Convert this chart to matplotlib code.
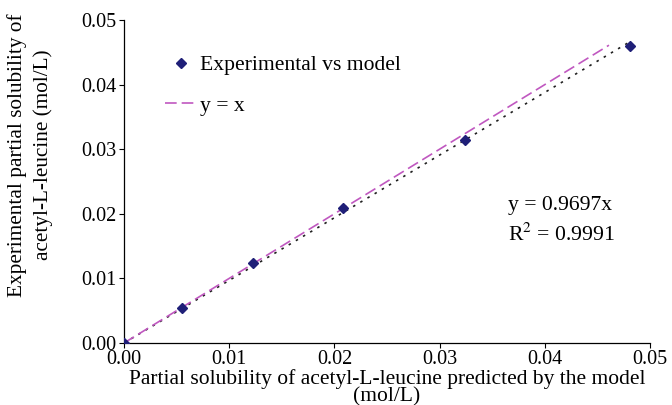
import numpy as np
import matplotlib
matplotlib.use("Agg")
import matplotlib.pyplot as plt

plt.rcParams['font.family'] = ['Liberation Serif', 'DejaVu Serif']
plt.rcParams['mathtext.fontset'] = 'stix'

# data
model = [0.0, 0.00554, 0.01226, 0.02085, 0.03244, 0.0481]
experimental = [0.0, 0.00537, 0.01232, 0.02085, 0.03136, 0.0460]
slope = 0.9697
r2 = 0.9991
identity_end = 0.0461
x_ticks = [0.00, 0.01, 0.02, 0.03, 0.04, 0.05]
y_ticks = [0.00, 0.01, 0.02, 0.03, 0.04, 0.05]

W, H = 672, 405
fig = plt.figure(figsize=(W / 100, H / 100), dpi=100)
ax = fig.add_axes([124 / W, 1 - 343 / H, (650 - 124) / W, (343 - 20) / H])

ax.plot(model, experimental, linestyle='none', marker='D', markersize=5,
        color='#1f1f78', label='Experimental vs model', zorder=3)
ax.plot([0, identity_end], [0, identity_end], linestyle=(0, (7, 3)),
        color='#c058c0', linewidth=1.2, label='y = x', zorder=2)
trend_x = np.array([0, max(model)])
ax.plot(trend_x, slope * trend_x, linestyle=(0, (1.5, 3.5)),
        color='#202020', linewidth=1.2, zorder=1)

ax.set_xlim(0, 0.05)
ax.set_ylim(0, 0.05)
ax.set_xticks(x_ticks)
ax.set_yticks(y_ticks)
ax.set_xticklabels([f"{t:.2f}" for t in x_ticks])
ax.set_yticklabels([f"{t:.2f}" for t in y_ticks])
ax.tick_params(direction='out', length=3.5, width=0.8, labelsize=14.5, pad=2)
ax.tick_params(axis='x', pad=1.5)
for s in ['top', 'right']:
    ax.spines[s].set_visible(False)
for s in ['left', 'bottom']:
    ax.spines[s].set_linewidth(0.9)

# x title: va='baseline' anchors the last line
fig.text(387 / W, 1 - 401.5 / H,
         'Partial solubility of acetyl-L-leucine predicted by the model\n(mol/L)',
         fontsize=15.5, ha='center', va='baseline', linespacing=0.88,
         multialignment='center')
fig.text(30 / W, 1 - 155 / H,
         'Experimental partial solubility of\nacetyl-L-leucine (mol/L)',
         fontsize=15.3, ha='center', va='center', rotation=90, linespacing=1.37,
         multialignment='center')

leg = ax.legend(loc='upper left', bbox_to_anchor=(165 / W, 1 - 55 / H),
                bbox_transform=fig.transFigure, frameon=False,
                fontsize=15.6, handlelength=1.45, handletextpad=0.15,
                labelspacing=0.95, borderpad=0, borderaxespad=0)

fig.text(508 / W, 1 - 210 / H, 'y = 0.9697x', fontsize=15.6, ha='left', va='baseline')
fig.text(508 / W, 1 - 241 / H, 'R$^2$ = 0.9991', fontsize=15.6, ha='left', va='baseline')

fig.savefig('out.png', dpi=100)
